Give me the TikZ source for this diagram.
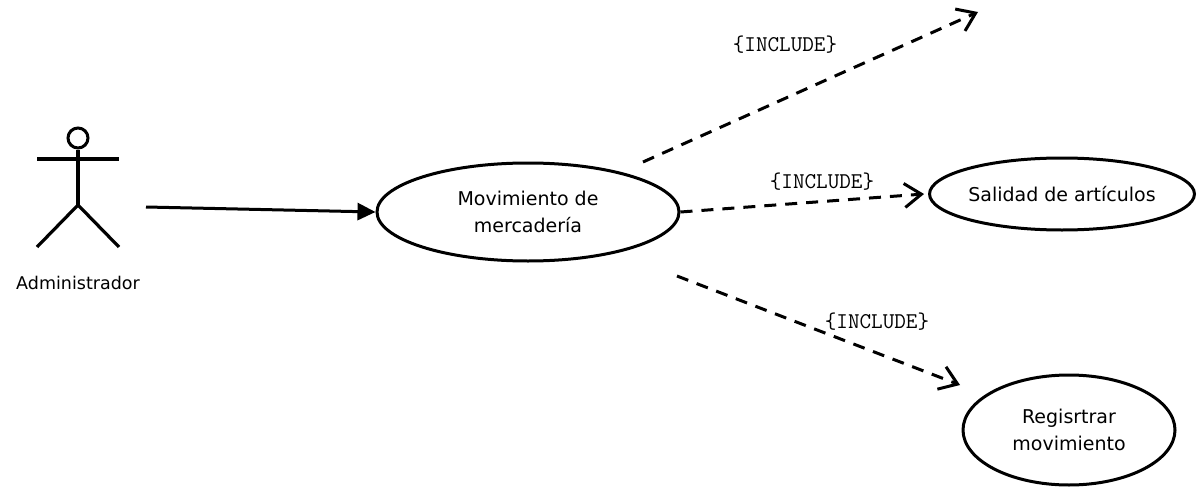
\documentclass[tikz,border=0pt]{standalone}
\usepackage{fontspec}
\setmainfont{DejaVu Sans}
\usetikzlibrary{shapes.geometric,arrows.meta}
\begin{document}
\begin{tikzpicture}[x=1pt,y=-1pt,
  uc/.style={draw,ellipse,line width=3pt,inner sep=0pt,align=center,font=\fontsize{19}{27}\selectfont},
  lbl/.style={font=\ttfamily\fontsize{22.5}{24}\selectfont,inner sep=0pt},
  inc/.style={line width=3pt,dash pattern=on 12pt off 9pt,-{Straight Barb[length=17pt,width=24pt,line width=3pt]}},
  assoc/.style={line width=3pt,-{Triangle[length=18pt,width=17pt]}},
  stick/.style={line width=3.2pt}]
\useasboundingbox (0,0) rectangle (1204,487);
% actor
\node[draw,circle,line width=3pt,minimum size=20pt,inner sep=0pt] (head) at (78,138) {};
\coordinate (hip) at (78,205);
\coordinate (armL) at (37,159);
\coordinate (armR) at (119,159);
\coordinate (legL) at (37,247);
\coordinate (legR) at (119,247);
\draw[stick] (head.south) -- (hip);
\draw[stick] (armL) -- (armR);
\draw[stick] (legL) -- (hip) -- (legR);
\node[font=\fontsize{17.5}{20}\selectfont] (actor) at (78,283) {Administrador};
% use cases
\node[uc,minimum width=302pt,minimum height=98pt] (m) at (528,212) {Movimiento de\\mercadería};
\node[uc,minimum width=256pt,minimum height=72pt] (s) at (1062,194) {Salidad de artículos};
\node[uc,minimum width=212pt,minimum height=110pt] (r) at (1069,430) {Regisrtrar\\movimiento};
% connectors
\coordinate (a0) at (146,207);
\draw[assoc] (a0) -- (m.west);
\coordinate (t1) at (643,162);
\coordinate (t2) at (978,12);
\draw[inc] (t1) -- (t2);
\draw[inc] (m.east) -- ([xshift=-4pt]s.west);
\coordinate (b1) at (677,276);
\coordinate (b2) at (960,385);
\draw[inc] (b1) -- (b2);
% labels
\node[lbl] (l1) at (785,45) {\{INCLUDE\}};
\node[lbl] (l2) at (822,182) {\{INCLUDE\}};
\node[lbl] (l3) at (877,322) {\{INCLUDE\}};
\end{tikzpicture}
\end{document}
